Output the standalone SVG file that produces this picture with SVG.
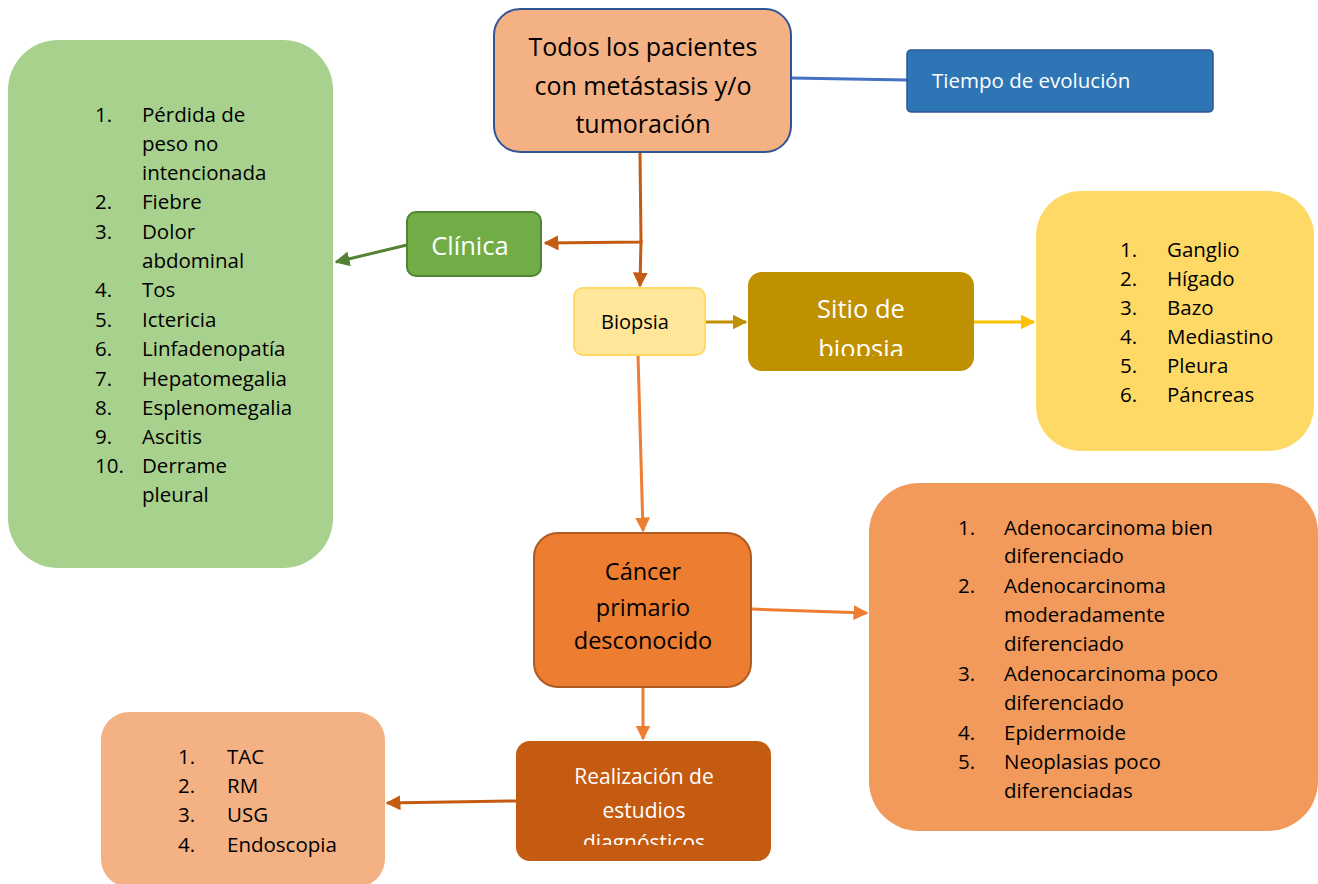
<svg xmlns="http://www.w3.org/2000/svg" width="1318" height="884" viewBox="0 0 1318 884">
<defs>
<style>
text{font-family:"Open Sans","Liberation Sans",sans-serif;}
.b{fill:#000;}
.w{fill:#fff;}
.li{font-size:20.5px;fill:#000;}
.c{text-anchor:middle;}
.ln{fill:none;stroke-width:3;}
</style>
<marker id="aBrown" viewBox="0 0 10 10" refX="9" refY="5" markerWidth="5" markerHeight="5" orient="auto"><path d="M0,0L10,5L0,10z" fill="#C55A11"/></marker>
<marker id="aGreen" viewBox="0 0 10 10" refX="9" refY="5" markerWidth="5" markerHeight="5" orient="auto"><path d="M0,0L10,5L0,10z" fill="#548235"/></marker>
<marker id="aGold" viewBox="0 0 10 10" refX="9" refY="5" markerWidth="5" markerHeight="5" orient="auto"><path d="M0,0L10,5L0,10z" fill="#BF9000"/></marker>
<marker id="aYel" viewBox="0 0 10 10" refX="9" refY="5" markerWidth="5" markerHeight="5" orient="auto"><path d="M0,0L10,5L0,10z" fill="#FFC000"/></marker>
<marker id="aOr" viewBox="0 0 10 10" refX="9" refY="5" markerWidth="5" markerHeight="5" orient="auto"><path d="M0,0L10,5L0,10z" fill="#ED7D31"/></marker>
<clipPath id="cSitio"><rect x="748" y="272" width="226" height="84"/></clipPath>
<clipPath id="cReal"><rect x="516" y="741" width="255" height="104"/></clipPath>
</defs>

<g id="connectors">
<path class="ln" d="M791,78 L907,80" stroke="#4472C4"/>
<path class="ln" d="M640,152 L641,242 L545,243" stroke="#C55A11" marker-end="url(#aBrown)"/>
<path class="ln" d="M641,240 L640,286" stroke="#C55A11" marker-end="url(#aBrown)"/>
<path class="ln" d="M407,245 L336,262" stroke="#548235" marker-end="url(#aGreen)"/>
<path class="ln" d="M705,322 L746,322" stroke="#BF9000" marker-end="url(#aGold)"/>
<path class="ln" d="M974,322 L1034,322" stroke="#FFC000" marker-end="url(#aYel)"/>
<path class="ln" d="M638,355 L643,531" stroke="#ED7D31" marker-end="url(#aOr)"/>
<path class="ln" d="M751,609 L867,613" stroke="#ED7D31" marker-end="url(#aOr)"/>
<path class="ln" d="M643,687 L643,739" stroke="#ED7D31" marker-end="url(#aOr)"/>
<path class="ln" d="M516,801 L387,803" stroke="#C55A11" marker-end="url(#aBrown)"/>
</g>

<g id="todos">
<rect x="494" y="9" width="297" height="143" rx="26" fill="#F4B183" stroke="#2F5597" stroke-width="2"/>
<text class="b c" x="643" y="56" font-size="25">Todos los pacientes</text>
<text class="b c" x="643" y="95" font-size="25">con metástasis y/o</text>
<text class="b c" x="643" y="133" font-size="25">tumoración</text>
</g>

<g id="tiempo">
<rect x="907" y="50" width="306" height="62" rx="4" fill="#2E75B6" stroke="#2F5597" stroke-width="1.5"/>
<text class="w" x="932" y="88" font-size="20.5">Tiempo de evolución</text>
</g>

<g id="clinica-lista">
<rect x="8" y="40" width="325" height="528" rx="50" fill="#A9D18E"/>
<g class="li">
<text x="95" y="122">1.</text><text x="142" y="122">Pérdida de</text>
<text x="142" y="151">peso no</text>
<text x="142" y="180">intencionada</text>
<text x="95" y="209">2.</text><text x="142" y="209">Fiebre</text>
<text x="95" y="239">3.</text><text x="142" y="239">Dolor</text>
<text x="142" y="268">abdominal</text>
<text x="95" y="297">4.</text><text x="142" y="297">Tos</text>
<text x="95" y="327">5.</text><text x="142" y="327">Ictericia</text>
<text x="95" y="356">6.</text><text x="142" y="356">Linfadenopatía</text>
<text x="95" y="386">7.</text><text x="142" y="386">Hepatomegalia</text>
<text x="95" y="415">8.</text><text x="142" y="415">Esplenomegalia</text>
<text x="95" y="444">9.</text><text x="142" y="444">Ascitis</text>
<text x="95" y="473">10.</text><text x="142" y="473">Derrame</text>
<text x="142" y="502">pleural</text>
</g>
</g>

<g id="clinica">
<rect x="407" y="212" width="134" height="64" rx="9" fill="#70AD47" stroke="#548235" stroke-width="2"/>
<text class="w c" x="470" y="255" font-size="25.5">Clínica</text>
</g>

<g id="biopsia">
<rect x="574" y="288" width="131" height="67" rx="9" fill="#FFE699" stroke="#FFD966" stroke-width="2"/>
<text class="b c" x="635" y="329" font-size="20">Biopsia</text>
</g>

<g id="sitio">
<rect x="748" y="272" width="226" height="99" rx="14" fill="#BF9000"/>
<g clip-path="url(#cSitio)">
<text class="w c" x="861" y="318" font-size="25.5">Sitio de</text>
<text class="w c" x="861" y="358" font-size="25.5">biopsia</text>
</g>
</g>

<g id="sitio-lista">
<rect x="1036" y="191" width="278" height="260" rx="45" fill="#FFD966"/>
<g class="li">
<text x="1120" y="257">1.</text><text x="1167" y="257">Ganglio</text>
<text x="1120" y="286">2.</text><text x="1167" y="286">Hígado</text>
<text x="1120" y="315">3.</text><text x="1167" y="315">Bazo</text>
<text x="1120" y="344">4.</text><text x="1167" y="344">Mediastino</text>
<text x="1120" y="373">5.</text><text x="1167" y="373">Pleura</text>
<text x="1120" y="402">6.</text><text x="1167" y="402">Páncreas</text>
</g>
</g>

<g id="cancer">
<rect x="534" y="533" width="217" height="154" rx="24" fill="#ED7D31" stroke="#AE5A21" stroke-width="2"/>
<text class="b c" x="643" y="580" font-size="23.5">Cáncer</text>
<text class="b c" x="643" y="616" font-size="23.5">primario</text>
<text class="b c" x="643" y="649" font-size="23.5">desconocido</text>
</g>

<g id="cancer-lista">
<rect x="869" y="483" width="449" height="348" rx="50" fill="#F19A5B"/>
<g class="li">
<text x="958" y="535">1.</text><text x="1004" y="535">Adenocarcinoma bien</text>
<text x="1004" y="563">diferenciado</text>
<text x="958" y="593">2.</text><text x="1004" y="593">Adenocarcinoma</text>
<text x="1004" y="622">moderadamente</text>
<text x="1004" y="651">diferenciado</text>
<text x="958" y="681">3.</text><text x="1004" y="681">Adenocarcinoma poco</text>
<text x="1004" y="710">diferenciado</text>
<text x="958" y="740">4.</text><text x="1004" y="740">Epidermoide</text>
<text x="958" y="769">5.</text><text x="1004" y="769">Neoplasias poco</text>
<text x="1004" y="798">diferenciadas</text>
</g>
</g>

<g id="realizacion">
<rect x="516" y="741" width="255" height="120" rx="14" fill="#C55A11"/>
<g clip-path="url(#cReal)">
<text class="w c" x="644" y="784" font-size="21">Realización de</text>
<text class="w c" x="644" y="818" font-size="21">estudios</text>
<text class="w c" x="644" y="850" font-size="21">diagnósticos</text>
</g>
</g>

<g id="estudios-lista">
<rect x="101" y="712" width="284" height="175" rx="28" fill="#F4B183"/>
<g class="li">
<text x="178" y="764">1.</text><text x="227" y="764">TAC</text>
<text x="178" y="793">2.</text><text x="227" y="793">RM</text>
<text x="178" y="822">3.</text><text x="227" y="822">USG</text>
<text x="178" y="852">4.</text><text x="227" y="852">Endoscopia</text>
</g>
</g>
</svg>
